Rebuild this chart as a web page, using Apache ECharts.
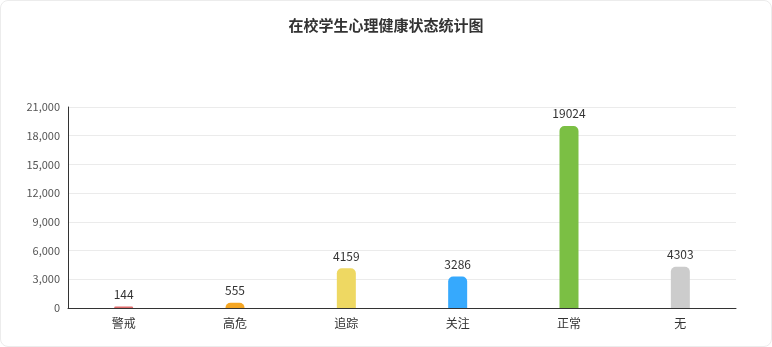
<!DOCTYPE html>
<html><head><meta charset="utf-8">
<script src="https://cdn.jsdelivr.net/npm/echarts@6/dist/echarts.min.js"></script>
<style>
html,body{margin:0;padding:0;background:#fff;}
#wrap{position:absolute;left:0;top:0;width:770px;height:345px;border:1px solid #ececec;border-radius:8px;}
#chart{width:770px;height:345px;}
</style></head>
<body><div id="wrap"><div id="chart"></div></div>
<script>
const categories = ['警戒','高危','追踪','关注','正常','无'];
const values = [144, 555, 4159, 3286, 19024, 4303];
const colors = ['#e06c6c','#f5a623','#eed862','#36a9fd','#7bbf44','#cccccc'];
const yTicks = {min:0, max:21000, interval:3000};

const chart = echarts.init(document.getElementById('chart'));
chart.setOption({
  animation:false,
  title:{text:'在校学生心理健康状态统计图', left:'center', top:12,
    textStyle:{fontSize:15, fontWeight:'bold', color:'#333', fontFamily:'"Noto Sans CJK SC", sans-serif'}},
  grid:{left:67, right:35, top:106, bottom:38},
  xAxis:{type:'category', data:categories,
    axisLine:{lineStyle:{color:'#333'}}, axisTick:{show:false},
    axisLabel:{color:'#333', fontSize:12, margin:9, fontFamily:'"Noto Sans CJK SC", sans-serif'},
    },
  yAxis:{type:'value', min:yTicks.min, max:yTicks.max, interval:yTicks.interval,
    axisLine:{show:true, lineStyle:{color:'#333'}}, axisTick:{show:false},
    axisLabel:{color:'#555', fontSize:11, margin:8, fontFamily:'"Noto Sans CJK SC", sans-serif'},
    splitLine:{lineStyle:{color:'#ebebeb'}}},
  series:[{type:'bar', barWidth:19,
    data:values.map((v,i)=>({value:v, itemStyle:{color:colors[i]}})),
    itemStyle:{borderRadius:[5,5,0,0]},
    label:{show:true, position:'top', color:'#333', fontSize:12, distance:6,
      fontFamily:'"Noto Sans CJK SC", sans-serif'}}]
});
</script></body></html>
